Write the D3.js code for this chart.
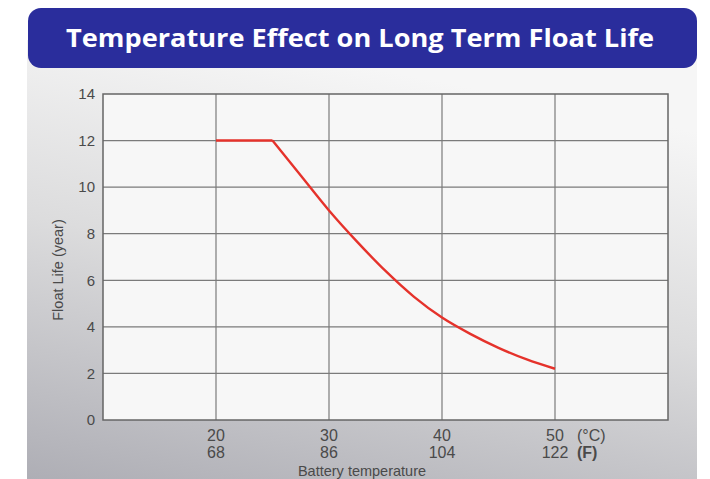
<!DOCTYPE html>
<html><head><meta charset="utf-8">
<script src="https://cdn.jsdelivr.net/npm/d3@7"></script>
<style>html,body{margin:0;padding:0;background:#fff;}svg{display:block;}</style>
</head><body>
<script>
const title = "Temperature Effect on Long Term Float Life";
const tempC = [20, 25, 27.5, 30, 32.5, 35, 37.5, 40, 42.5, 45, 47.5, 50];
const lifeYears = [12, 12, 10.5, 9.0, 7.65, 6.4, 5.3, 4.4, 3.7, 3.1, 2.6, 2.2];
const xTicksC = [20, 30, 40, 50];
const xTicksF = ["68", "86", "104", "122"];
const yTicks = [0, 2, 4, 6, 8, 10, 12, 14];
const yLabel = "Float Life (year)";
const xLabel = "Battery temperature";

const W = 710, H = 479;
const svg = d3.select("body").append("svg").attr("width", W).attr("height", H);
const defs = svg.append("defs");
const g1 = defs.append("linearGradient").attr("id","bg").attr("x1","0.3").attr("y1","0").attr("x2","0").attr("y2","1");
g1.append("stop").attr("offset","0").attr("stop-color","#f6f6f6");
g1.append("stop").attr("offset","0.45").attr("stop-color","#dcdcdd");
g1.append("stop").attr("offset","1").attr("stop-color","#aeaeb5");

// panel
svg.append("rect").attr("x",27).attr("y",40).attr("width",670).attr("height",H-40).attr("fill","url(#bg)");
// banner
svg.append("rect").attr("x",28).attr("y",8).attr("width",669).attr("height",60).attr("rx",13).attr("fill","#2a2d9c");
svg.append("text").attr("x",360).attr("y",47).attr("text-anchor","middle")
  .attr("font-family","'Open Sans', sans-serif").attr("font-weight","bold").attr("font-size",25)
  .attr("fill","#ffffff").attr("textLength",588).attr("lengthAdjust","spacingAndGlyphs").text(title);

const x = d3.scaleLinear().domain([10, 60]).range([103, 668]);
const y = d3.scaleLinear().domain([0, 14]).range([420, 94]);

svg.append("rect").attr("x",x(10)).attr("y",y(14)).attr("width",x(60)-x(10)).attr("height",y(0)-y(14))
  .attr("fill","#f7f7f7");

const grid = svg.append("g").attr("stroke","#7b7b7b").attr("stroke-width",1.2);
grid.selectAll("line.h").data(yTicks.filter(v => v > 0 && v < 14)).join("line")
  .attr("x1",x(10)).attr("x2",x(60)).attr("y1",d=>y(d)).attr("y2",d=>y(d));
grid.selectAll("line.v").data(xTicksC).join("line").attr("class","v")
  .attr("y1",y(0)).attr("y2",y(14)).attr("x1",d=>x(d)).attr("x2",d=>x(d));
svg.append("rect").attr("x",x(10)).attr("y",y(14)).attr("width",x(60)-x(10)).attr("height",y(0)-y(14))
  .attr("fill","none").attr("stroke","#666").attr("stroke-width",1.5);

// y tick labels
svg.append("g").selectAll("text").data(yTicks).join("text")
  .attr("x",95).attr("y",d=>y(d)).attr("dy","0.35em").attr("text-anchor","end")
  .attr("font-family","'Liberation Sans', Arial, sans-serif").attr("font-size",15).attr("fill","#4a4a4a")
  .text(d=>d);
// x tick labels
const xl = svg.append("g").attr("font-family","'Liberation Sans', Arial, sans-serif").attr("font-size",16).attr("fill","#4a4a4a");
xl.selectAll("text.c").data(xTicksC).join("text").attr("class","c")
  .attr("x",d=>x(d)).attr("y",441).attr("text-anchor","middle").text(d=>d);
xl.selectAll("text.f").data(xTicksF).join("text").attr("class","f")
  .attr("x",(d,i)=>x(xTicksC[i])).attr("y",458).attr("text-anchor","middle").text(d=>d);
xl.append("text").attr("x",577).attr("y",441).text("(°C)");
xl.append("text").attr("x",577).attr("y",458).attr("font-weight","bold").text("(F)");
xl.append("text").attr("x",362).attr("y",475.5).attr("text-anchor","middle").attr("font-size",14.5).text(xLabel);

svg.append("text").attr("transform","translate(63,270) rotate(-90)").attr("text-anchor","middle")
  .attr("font-family","'Liberation Sans', Arial, sans-serif").attr("font-size",14.5).attr("fill","#4a4a4a").text(yLabel);

// curve
const pts = tempC.map((t,i)=>[t, lifeYears[i]]);
const flat = pts.filter(p => p[0] <= 25);
const drop = pts.filter(p => p[0] >= 25);
svg.append("path").datum(flat).attr("fill","none").attr("stroke","#e5322b").attr("stroke-width",2.4)
  .attr("d", d3.line().x(d=>x(d[0])).y(d=>y(d[1])));
svg.append("path").datum(drop).attr("fill","none").attr("stroke","#e5322b").attr("stroke-width",2.4)
  .attr("d", d3.line().curve(d3.curveMonotoneX).x(d=>x(d[0])).y(d=>y(d[1])));
</script>
</body></html>
